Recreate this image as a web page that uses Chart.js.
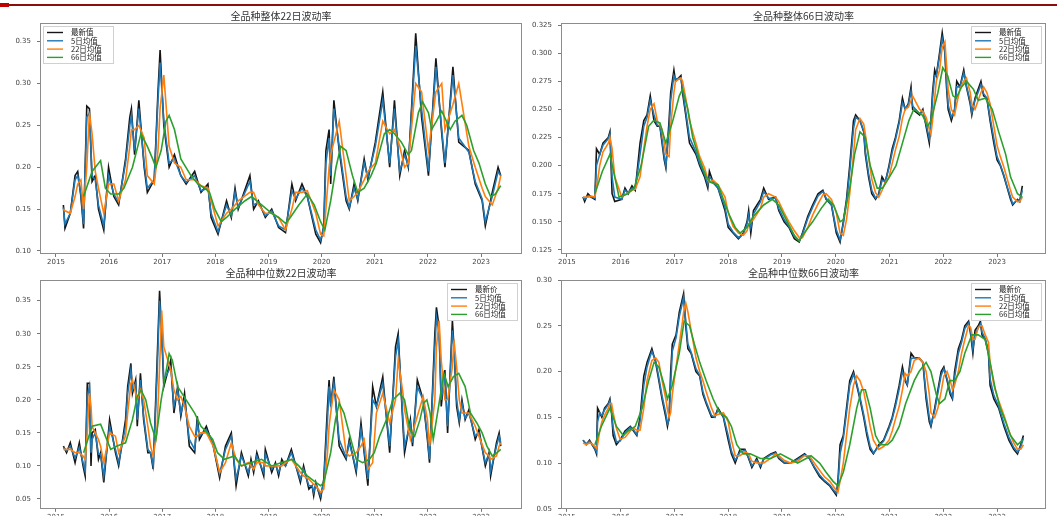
<!DOCTYPE html>
<html>
<head>
<meta charset="utf-8">
<script src="https://cdn.jsdelivr.net/npm/chart.js@4.4.1/dist/chart.umd.min.js"></script>
<style>
html, body { margin: 0; padding: 0; background: #fff; overflow: hidden; width: 1057px; height: 519px; }
canvas { position: absolute; left: 0; top: 0; }
#rule { position: absolute; left: 0; top: 4px; width: 1057px; height: 2px; background: #8b0d0d; }
#mark { position: absolute; left: 0; top: 3px; width: 9px; height: 4px; background: #c00000; }
</style>
</head>
<body>
<div id="rule"></div><div id="mark"></div>
<canvas id="c1" width="1057" height="519"></canvas>
<canvas id="c2" width="1057" height="519"></canvas>
<canvas id="c3" width="1057" height="519"></canvas>
<canvas id="c4" width="1057" height="519"></canvas>
<script>
// 横轴年份和各图纵轴刻度
const YEARS = [2015, 2016, 2017, 2018, 2019, 2020, 2021, 2022, 2023];
const TICKS_1 = [0.10, 0.15, 0.20, 0.25, 0.30, 0.35];
const TICKS_2 = [0.125, 0.150, 0.175, 0.200, 0.225, 0.250, 0.275, 0.300, 0.325];
const TICKS_3 = [0.05, 0.10, 0.15, 0.20, 0.25, 0.30, 0.35];
const TICKS_4 = [0.05, 0.10, 0.15, 0.20, 0.25, 0.30];
const NAMES_A = ['最新值', '5日均值', '22日均值', '66日均值'];
const NAMES_B = ['最新价', '5日均值', '22日均值', '66日均值'];

// 全品种整体22日波动率
const t1 = [2015.14,2015.17,2015.27,2015.36,2015.41,2015.47,2015.52,2015.58,2015.63,2015.68,
  2015.74,2015.80,2015.90,2015.99,2016.09,2016.18,2016.31,2016.39,2016.42,2016.48,
  2016.56,2016.66,2016.72,2016.85,2016.92,2016.96,2017.03,2017.13,2017.23,2017.35,
  2017.45,2017.61,2017.73,2017.86,2017.92,2018.05,2018.21,2018.30,2018.37,2018.43,
  2018.65,2018.72,2018.81,2018.94,2019.06,2019.19,2019.32,2019.44,2019.51,2019.63,
  2019.73,2019.89,2019.98,2020.04,2020.08,2020.14,2020.17,2020.23,2020.33,2020.46,
  2020.52,2020.61,2020.68,2020.80,2020.87,2021.01,2021.15,2021.28,2021.37,2021.47,
  2021.56,2021.63,2021.77,2021.88,2022.01,2022.15,2022.26,2022.32,2022.47,2022.58,
  2022.77,2022.89,2023.02,2023.08,2023.21,2023.32,2023.37];
const last1 = [.155,.127,.145,.19,.195,.165,.127,.273,.27,.183,
  .19,.15,.125,.20,.165,.155,.21,.26,.27,.215,
  .28,.20,.17,.185,.29,.34,.25,.20,.215,.19,
  .18,.195,.17,.18,.14,.12,.16,.14,.175,.15,
  .19,.15,.16,.14,.15,.128,.122,.18,.16,.18,
  .165,.12,.11,.13,.22,.245,.18,.28,.22,.16,
  .15,.18,.16,.21,.185,.23,.29,.20,.28,.19,
  .22,.20,.36,.26,.19,.33,.24,.20,.32,.23,
  .22,.18,.16,.13,.17,.20,.19];
const ma5_1 = [.152,.132,.145,.185,.19,.168,.132,.26,.265,.19,
  .185,.155,.13,.19,.168,.158,.205,.25,.262,.22,
  .27,.205,.175,.185,.28,.325,.255,.205,.21,.19,
  .182,.19,.172,.175,.145,.123,.155,.142,.17,.152,
  .183,.155,.158,.142,.148,.13,.125,.172,.162,.175,
  .165,.125,.113,.128,.205,.235,.19,.27,.225,.165,
  .152,.175,.162,.205,.188,.225,.28,.205,.27,.195,
  .215,.202,.345,.27,.195,.32,.245,.205,.31,.235,
  .218,.183,.162,.135,.165,.195,.19];
const ma22_1 = [.15,.148,.145,.165,.18,.185,.15,.2,.265,.24,
  .195,.175,.145,.18,.18,.16,.185,.225,.245,.245,
  .25,.235,.19,.18,.22,.27,.31,.225,.205,.2,
  .185,.185,.178,.175,.16,.13,.145,.15,.155,.16,
  .17,.17,.155,.145,.145,.14,.125,.15,.17,.17,
  .172,.145,.12,.118,.15,.2,.215,.23,.255,.19,
  .16,.165,.17,.185,.195,.205,.255,.24,.245,.225,
  .2,.205,.3,.29,.22,.29,.3,.245,.275,.3,
  .225,.2,.175,.165,.155,.175,.19];
const t66_1 = [2015.52,2015.68,2015.84,2015.93,2016.03,2016.18,2016.28,2016.44,2016.60,2016.72,
  2016.82,2016.88,2016.98,2017.07,2017.13,2017.23,2017.35,2017.54,2017.67,2017.80,
  2017.89,2017.99,2018.11,2018.21,2018.37,2018.56,2018.68,2018.87,2019.06,2019.19,
  2019.32,2019.41,2019.57,2019.73,2019.86,2019.98,2020.06,2020.17,2020.27,2020.36,
  2020.46,2020.58,2020.68,2020.80,2020.93,2021.03,2021.18,2021.28,2021.37,2021.50,
  2021.63,2021.69,2021.82,2021.90,2022.01,2022.07,2022.16,2022.26,2022.42,2022.51,
  2022.64,2022.73,2022.86,2022.96,2023.08,2023.18,2023.27,2023.37];
const ma66_1 = [.165,.195,.208,.175,.168,.168,.175,.20,.24,.225,
  .21,.20,.22,.255,.262,.245,.21,.19,.18,.175,
  .17,.15,.135,.14,.15,.16,.165,.155,.145,.14,
  .133,.14,.155,.168,.155,.135,.125,.16,.20,.225,
  .22,.19,.17,.175,.19,.205,.24,.245,.24,.23,
  .215,.22,.265,.278,.265,.245,.255,.267,.245,.255,
  .262,.25,.22,.205,.18,.165,.168,.178];

// 全品种整体66日波动率
const t2 = [2015.30,2015.33,2015.39,2015.45,2015.52,2015.55,2015.61,2015.67,2015.77,2015.80,
  2015.84,2015.89,2016.02,2016.08,2016.14,2016.21,2016.27,2016.36,2016.43,2016.49,
  2016.55,2016.62,2016.68,2016.73,2016.77,2016.81,2016.84,2016.90,2016.93,2016.99,
  2017.02,2017.12,2017.15,2017.21,2017.28,2017.40,2017.47,2017.56,2017.62,2017.65,
  2017.72,2017.81,2017.94,2018.00,2018.09,2018.19,2018.28,2018.35,2018.38,2018.42,
  2018.47,2018.60,2018.66,2018.75,2018.88,2018.94,2019.04,2019.13,2019.23,2019.32,
  2019.38,2019.48,2019.57,2019.67,2019.76,2019.82,2019.92,2020.01,2020.08,2020.14,
  2020.20,2020.26,2020.33,2020.37,2020.45,2020.52,2020.55,2020.61,2020.67,2020.74,
  2020.80,2020.86,2020.92,2020.99,2021.05,2021.11,2021.18,2021.24,2021.29,2021.35,
  2021.40,2021.43,2021.56,2021.62,2021.68,2021.74,2021.77,2021.80,2021.84,2021.87,
  2021.93,2021.98,2022.03,2022.06,2022.09,2022.15,2022.21,2022.25,2022.31,2022.38,
  2022.43,2022.50,2022.53,2022.59,2022.70,2022.75,2022.81,2022.87,2022.94,2023.00,
  2023.06,2023.13,2023.19,2023.25,2023.29,2023.38,2023.42,2023.47];
const last2 = [.172,.168,.175,.172,.17,.215,.21,.22,.225,.23,
  .175,.168,.17,.18,.175,.182,.178,.22,.24,.245,
  .262,.24,.235,.235,.22,.205,.198,.24,.265,.285,
  .275,.28,.265,.245,.22,.21,.20,.19,.18,.195,
  .185,.18,.16,.145,.14,.135,.14,.15,.16,.14,
  .16,.17,.18,.17,.172,.16,.15,.145,.135,.132,
  .14,.155,.165,.175,.178,.17,.165,.14,.132,.15,
  .17,.20,.24,.245,.24,.23,.21,.19,.175,.17,
  .175,.19,.185,.20,.215,.225,.24,.26,.25,.255,
  .27,.25,.245,.25,.235,.22,.24,.265,.285,.28,
  .30,.318,.30,.27,.25,.24,.25,.275,.27,.285,
  .27,.255,.245,.26,.275,.262,.26,.24,.22,.205,
  .20,.19,.18,.17,.165,.17,.168,.182];
const ma5_2 = [.172,.17,.173,.172,.171,.2,.21,.218,.224,.228,
  .19,.172,.17,.178,.176,.18,.179,.21,.235,.243,
  .258,.245,.236,.235,.223,.208,.2,.232,.258,.28,
  .277,.278,.268,.248,.225,.212,.202,.192,.183,.19,
  .186,.18,.163,.148,.141,.136,.139,.148,.156,.145,
  .157,.168,.177,.171,.171,.162,.152,.146,.137,.133,
  .139,.153,.163,.173,.177,.171,.165,.143,.134,.148,
  .167,.195,.233,.243,.24,.231,.213,.193,.178,.171,
  .174,.187,.186,.198,.212,.223,.238,.256,.251,.254,
  .266,.253,.246,.249,.237,.224,.237,.26,.28,.28,
  .297,.313,.302,.275,.254,.243,.249,.27,.27,.282,
  .271,.257,.247,.258,.272,.264,.26,.243,.224,.208,
  .201,.191,.181,.172,.166,.169,.168,.178];
const ma22_2 = [.172,.172,.172,.173,.172,.18,.2,.212,.22,.225,
  .215,.19,.172,.174,.176,.178,.179,.19,.215,.235,
  .25,.255,.24,.236,.232,.22,.21,.208,.235,.265,
  .275,.278,.275,.26,.24,.22,.208,.198,.188,.185,
  .187,.183,.172,.158,.146,.14,.138,.142,.148,.15,
  .152,.162,.172,.175,.172,.168,.158,.15,.142,.136,
  .136,.145,.156,.166,.174,.175,.17,.158,.14,.138,
  .152,.175,.21,.232,.242,.237,.228,.208,.188,.176,
  .172,.178,.185,.19,.202,.214,.226,.242,.25,.252,
  .258,.262,.25,.248,.243,.232,.228,.24,.26,.275,
  .285,.305,.31,.29,.268,.25,.245,.255,.268,.275,
  .278,.265,.255,.25,.265,.27,.265,.255,.235,.218,
  .208,.198,.188,.178,.172,.168,.168,.172];
const t66_2 = [2015.52,2015.66,2015.80,2015.97,2016.13,2016.25,2016.38,2016.52,2016.61,2016.73,
  2016.84,2016.97,2017.09,2017.15,2017.25,2017.34,2017.47,2017.59,2017.68,2017.81,
  2017.91,2018.03,2018.13,2018.22,2018.35,2018.47,2018.66,2018.82,2018.94,2019.10,
  2019.23,2019.32,2019.41,2019.57,2019.73,2019.86,2019.96,2020.08,2020.14,2020.26,
  2020.35,2020.45,2020.55,2020.64,2020.77,2020.87,2021.00,2021.12,2021.24,2021.36,
  2021.45,2021.61,2021.71,2021.77,2021.90,2021.99,2022.08,2022.18,2022.24,2022.34,
  2022.43,2022.56,2022.65,2022.78,2022.91,2023.03,2023.16,2023.25,2023.38,2023.47];
const ma66_2 = [.175,.195,.21,.172,.175,.18,.20,.235,.24,.238,
  .22,.24,.262,.268,.25,.225,.205,.19,.185,.183,
  .17,.155,.145,.14,.145,.155,.165,.17,.165,.15,
  .138,.133,.14,.15,.162,.17,.165,.15,.152,.18,
  .21,.23,.225,.2,.18,.18,.19,.2,.22,.24,
  .25,.245,.235,.24,.265,.287,.28,.262,.26,.27,
  .275,.268,.258,.26,.25,.23,.21,.19,.175,.172];

// 全品种中位数22日波动率
const t3 = [2015.14,2015.20,2015.27,2015.36,2015.44,2015.51,2015.55,2015.59,2015.63,2015.66,
  2015.68,2015.74,2015.80,2015.84,2015.90,2016.01,2016.12,2016.18,2016.31,2016.35,
  2016.41,2016.44,2016.50,2016.53,2016.59,2016.65,2016.73,2016.78,2016.83,2016.90,
  2016.95,2016.99,2017.03,2017.16,2017.22,2017.29,2017.35,2017.42,2017.51,2017.61,
  2017.66,2017.70,2017.83,2017.96,2018.08,2018.19,2018.30,2018.39,2018.49,2018.62,
  2018.67,2018.72,2018.78,2018.91,2018.94,2019.06,2019.13,2019.19,2019.25,2019.32,
  2019.43,2019.60,2019.66,2019.76,2019.82,2019.85,2019.89,2019.98,2020.04,2020.11,
  2020.14,2020.17,2020.23,2020.33,2020.46,2020.52,2020.65,2020.74,2020.80,2020.87,
  2020.96,2021.03,2021.15,2021.28,2021.39,2021.44,2021.53,2021.56,2021.67,2021.71,
  2021.80,2021.91,2021.99,2022.03,2022.13,2022.16,2022.21,2022.25,2022.32,2022.37,
  2022.46,2022.49,2022.54,2022.59,2022.64,2022.70,2022.77,2022.89,2022.96,2023.08,
  2023.15,2023.18,2023.29,2023.34,2023.37];
const last3 = [.13,.12,.135,.105,.135,.10,.085,.225,.225,.10,
  .15,.155,.11,.12,.075,.17,.12,.10,.17,.22,
  .255,.21,.23,.16,.24,.17,.12,.12,.095,.25,
  .365,.30,.22,.26,.18,.22,.175,.21,.13,.12,
  .175,.14,.16,.13,.082,.13,.15,.07,.12,.085,
  .11,.09,.12,.085,.125,.09,.105,.085,.11,.10,
  .125,.075,.10,.065,.07,.055,.075,.05,.08,.19,
  .23,.19,.235,.13,.11,.14,.09,.165,.12,.07,
  .22,.19,.235,.12,.28,.30,.16,.12,.17,.13,
  .23,.20,.14,.105,.30,.34,.31,.19,.245,.15,
  .32,.28,.19,.165,.20,.17,.185,.14,.155,.10,
  .12,.085,.135,.15,.13];
const ma5_3 = [.128,.123,.13,.112,.128,.105,.092,.205,.22,.12,
  .14,.15,.118,.118,.085,.16,.125,.105,.16,.21,
  .245,.215,.225,.17,.23,.175,.125,.12,.10,.23,
  .35,.305,.23,.25,.19,.215,.18,.2,.14,.125,
  .165,.145,.155,.132,.088,.125,.145,.08,.115,.09,
  .105,.095,.115,.09,.118,.095,.102,.09,.105,.1,
  .12,.08,.095,.07,.07,.06,.072,.055,.075,.17,
  .22,.195,.225,.14,.113,.135,.095,.155,.125,.08,
  .2,.19,.225,.13,.265,.29,.17,.13,.165,.135,
  .22,.2,.145,.11,.28,.325,.3,.2,.235,.16,
  .305,.28,.2,.17,.195,.172,.18,.145,.15,.105,
  .118,.092,.13,.145,.135];
const ma22_3 = [.125,.125,.125,.12,.12,.115,.11,.15,.21,.19,
  .16,.15,.14,.13,.105,.15,.145,.12,.145,.18,
  .225,.23,.21,.2,.215,.2,.16,.13,.115,.15,
  .25,.335,.28,.245,.215,.2,.205,.19,.16,.145,
  .145,.15,.15,.13,.09,.105,.135,.11,.1,.105,
  .1,.095,.105,.105,.1,.1,.1,.1,.1,.105,
  .11,.09,.085,.08,.075,.072,.07,.06,.065,.12,
  .16,.18,.215,.2,.12,.115,.12,.13,.14,.095,
  .105,.18,.21,.165,.2,.26,.21,.185,.14,.15,
  .175,.205,.17,.13,.2,.28,.32,.26,.2,.2,
  .25,.29,.25,.2,.18,.18,.18,.16,.145,.12,
  .115,.11,.115,.13,.135];
const t66_3 = [2015.52,2015.68,2015.84,2015.93,2016.03,2016.15,2016.31,2016.44,2016.53,2016.60,
  2016.69,2016.78,2016.88,2016.98,2017.13,2017.19,2017.29,2017.45,2017.61,2017.73,
  2017.85,2017.95,2018.04,2018.17,2018.36,2018.49,2018.68,2018.87,2019.06,2019.25,
  2019.44,2019.57,2019.73,2019.89,2019.98,2020.04,2020.17,2020.26,2020.33,2020.42,
  2020.55,2020.65,2020.77,2020.90,2020.99,2021.09,2021.22,2021.34,2021.47,2021.56,
  2021.66,2021.75,2021.85,2021.92,2021.98,2022.04,2022.10,2022.18,2022.30,2022.38,
  2022.48,2022.58,2022.70,2022.80,2022.92,2023.02,2023.11,2023.21,2023.30,2023.37];
const ma66_3 = [.12,.16,.163,.145,.125,.13,.135,.17,.205,.215,
  .2,.165,.14,.2,.27,.26,.22,.2,.18,.16,
  .15,.14,.12,.11,.115,.1,.105,.11,.1,.105,
  .11,.1,.085,.075,.07,.075,.12,.17,.195,.18,
  .14,.11,.105,.11,.12,.145,.17,.2,.21,.2,
  .155,.145,.17,.195,.2,.18,.14,.18,.24,.22,
  .235,.24,.22,.18,.165,.15,.13,.115,.12,.125];

// 全品种中位数66日波动率
const t4 = [2015.30,2015.36,2015.42,2015.47,2015.52,2015.55,2015.57,2015.61,2015.65,2015.70,
  2015.77,2015.80,2015.83,2015.86,2015.92,2015.99,2016.08,2016.18,2016.24,2016.30,
  2016.36,2016.43,2016.49,2016.55,2016.58,2016.65,2016.71,2016.77,2016.84,2016.87,
  2016.90,2016.93,2016.96,2017.03,2017.09,2017.15,2017.17,2017.21,2017.25,2017.31,
  2017.40,2017.47,2017.53,2017.59,2017.69,2017.75,2017.81,2017.91,2018.00,2018.06,
  2018.13,2018.22,2018.31,2018.38,2018.44,2018.53,2018.60,2018.66,2018.79,2018.88,
  2018.94,2019.04,2019.16,2019.29,2019.42,2019.51,2019.60,2019.70,2019.79,2019.89,
  2019.95,2020.01,2020.04,2020.08,2020.14,2020.20,2020.26,2020.33,2020.39,2020.45,
  2020.52,2020.58,2020.64,2020.70,2020.80,2020.89,2020.99,2021.05,2021.11,2021.18,
  2021.24,2021.29,2021.33,2021.40,2021.46,2021.55,2021.62,2021.68,2021.74,2021.77,
  2021.84,2021.90,2021.96,2022.01,2022.07,2022.13,2022.17,2022.21,2022.28,2022.34,
  2022.40,2022.47,2022.51,2022.55,2022.59,2022.65,2022.69,2022.72,2022.78,2022.84,
  2022.87,2022.94,2023.03,2023.13,2023.22,2023.31,2023.38,2023.44,2023.49];
const last4 = [.125,.12,.125,.12,.115,.11,.16,.155,.15,.16,
  .165,.17,.155,.13,.12,.125,.135,.14,.135,.13,
  .15,.195,.21,.22,.225,.21,.19,.17,.15,.14,
  .15,.2,.23,.24,.265,.28,.285,.25,.225,.22,
  .20,.195,.175,.165,.15,.15,.16,.15,.125,.11,
  .10,.115,.115,.105,.095,.105,.095,.105,.11,.112,
  .105,.10,.10,.105,.11,.105,.095,.085,.08,.075,
  .07,.065,.08,.12,.13,.16,.19,.20,.185,.17,
  .15,.13,.115,.11,.12,.125,.14,.15,.165,.185,
  .205,.19,.185,.22,.215,.215,.21,.17,.145,.14,
  .16,.18,.2,.205,.19,.175,.17,.2,.225,.235,
  .25,.255,.24,.22,.245,.25,.255,.24,.235,.22,
  .185,.17,.16,.14,.125,.115,.11,.12,.13];
const ma5_4 = [.125,.121,.124,.12,.116,.112,.145,.155,.152,.158,
  .164,.168,.158,.138,.123,.124,.133,.139,.136,.131,
  .145,.185,.205,.217,.222,.212,.193,.173,.154,.143,
  .147,.185,.222,.237,.26,.276,.281,.255,.23,.221,
  .203,.196,.178,.167,.152,.15,.158,.151,.13,.113,
  .103,.112,.114,.106,.097,.103,.097,.104,.109,.111,
  .106,.101,.1,.104,.109,.105,.096,.087,.081,.076,
  .071,.067,.076,.11,.127,.155,.185,.197,.187,.172,
  .153,.134,.118,.111,.118,.124,.138,.148,.162,.181,
  .2,.192,.186,.214,.215,.214,.21,.176,.15,.142,
  .157,.177,.196,.203,.192,.178,.172,.194,.22,.232,
  .247,.253,.243,.225,.24,.248,.252,.243,.236,.223,
  .192,.174,.162,.143,.128,.117,.112,.118,.127];
const ma22_4 = [.122,.12,.122,.121,.118,.116,.12,.135,.145,.152,
  .16,.165,.165,.155,.138,.126,.128,.135,.138,.136,
  .136,.16,.19,.205,.212,.215,.21,.19,.17,.158,
  .15,.155,.175,.205,.23,.255,.265,.275,.265,.245,
  .215,.2,.19,.178,.16,.152,.153,.155,.145,.125,
  .108,.108,.112,.11,.102,.1,.1,.1,.105,.11,
  .108,.103,.1,.102,.108,.108,.1,.092,.085,.08,
  .075,.07,.068,.08,.1,.13,.16,.185,.195,.19,
  .178,.16,.14,.125,.115,.118,.125,.135,.148,.162,
  .18,.198,.195,.2,.212,.215,.21,.2,.175,.155,
  .15,.16,.178,.195,.2,.19,.18,.185,.2,.22,
  .235,.25,.248,.235,.235,.248,.25,.25,.24,.232,
  .21,.185,.168,.152,.135,.122,.115,.115,.12];
const t66_4 = [2015.52,2015.64,2015.80,2015.92,2016.05,2016.14,2016.27,2016.40,2016.52,2016.62,
  2016.71,2016.81,2016.87,2016.96,2017.09,2017.18,2017.28,2017.37,2017.47,2017.59,
  2017.72,2017.84,2017.97,2018.06,2018.16,2018.28,2018.41,2018.60,2018.79,2018.97,
  2019.13,2019.29,2019.45,2019.54,2019.70,2019.82,2019.95,2020.04,2020.14,2020.26,
  2020.39,2020.48,2020.55,2020.64,2020.74,2020.83,2020.96,2021.05,2021.18,2021.30,
  2021.46,2021.55,2021.68,2021.77,2021.87,2021.93,2022.03,2022.12,2022.21,2022.31,
  2022.40,2022.53,2022.65,2022.78,2022.87,2022.97,2023.06,2023.16,2023.25,2023.38,
  2023.47];
const ma66_4 = [.12,.14,.16,.14,.13,.135,.14,.16,.19,.21,
  .205,.185,.17,.185,.22,.255,.25,.23,.21,.19,
  .17,.155,.15,.14,.12,.11,.11,.105,.105,.11,
  .105,.10,.105,.108,.1,.09,.08,.075,.09,.12,
  .16,.18,.18,.16,.13,.12,.12,.125,.14,.165,
  .19,.20,.21,.2,.175,.165,.17,.19,.19,.2,
  .22,.24,.24,.235,.21,.18,.16,.145,.13,.12,
  .125];

const COLORS = ['#151515', '#1f77b4', '#ff7f0e', '#2ca02c'];
const TICK_FONT = { family: 'DejaVu Sans', size: 7 };

function panel(id, o) {
  const pts = (xs, ys) => xs.map((x, i) => ({ x: x, y: ys[i] }));
  const series = [pts(o.t, o.last), pts(o.t, o.ma5), pts(o.t, o.ma22), pts(o.gt, o.ma66)];
  const [L, T, R, B] = o.box;
  new Chart(document.getElementById(id), {
    type: 'line',
    data: {
      datasets: series.map((d, i) => ({
        label: o.names[i],
        data: d,
        borderColor: COLORS[i],
        order: 4 - i
      }))
    },
    options: {
      responsive: false,
      animation: false,
      events: [],
      layout: { padding: { left: L - 40, top: T, right: 1057 - R, bottom: 0 } },
      elements: {
        point: { radius: 0 },
        line: { borderWidth: 1.6, tension: 0, fill: false }
      },
      plugins: { legend: { display: false }, tooltip: { enabled: false } },
      scales: {
        x: {
          type: 'linear',
          min: o.xr[0],
          max: o.xr[1],
          afterFit: s => { s.height = 519 - B; },
          afterBuildTicks: s => { s.ticks = YEARS.map(v => ({ value: v })); },
          ticks: {
            autoSkip: false, maxRotation: 0, padding: 1,
            color: '#444', font: TICK_FONT,
            callback: v => String(v)
          },
          grid: { drawOnChartArea: false, tickLength: 3, color: '#777' },
          border: { display: false }
        },
        y: {
          min: o.yr[0],
          max: o.yr[1],
          afterFit: s => { s.width = 40; },
          afterBuildTicks: s => { s.ticks = o.yt.map(v => ({ value: v })); },
          ticks: {
            padding: 6, color: '#444', font: TICK_FONT,
            callback: v => v.toFixed(o.dec)
          },
          grid: { drawOnChartArea: false, tickLength: 3, color: '#777' },
          border: { display: false }
        }
      }
    },
    plugins: [{
      id: 'frame',
      afterDraw(chart) {
        const ctx = chart.ctx, a = chart.chartArea;
        ctx.save();
        // 坐标框
        ctx.strokeStyle = '#8c8c8c';
        ctx.lineWidth = 1;
        ctx.strokeRect(Math.round(a.left) + 0.5, Math.round(a.top) + 0.5,
          Math.round(a.right - a.left) - 1, Math.round(a.bottom - a.top) - 1);
        // 标题
        ctx.fillStyle = '#333';
        ctx.font = '10px "Noto Sans CJK SC"';
        ctx.textAlign = 'center';
        ctx.textBaseline = 'middle';
        ctx.fillText(o.title, (a.left + a.right) / 2, a.top - 7);
        // 图例
        const w = 70, h = 37;
        const lx = o.legendLeft ? a.left + 3 : a.right - 5 - w;
        const ly = a.top + 3;
        ctx.fillStyle = 'rgba(255,255,255,0.85)';
        ctx.fillRect(lx, ly, w, h);
        ctx.strokeStyle = '#d0d0d0';
        ctx.strokeRect(lx + 0.5, ly + 0.5, w, h);
        ctx.font = '7.5px "Noto Sans CJK SC"';
        ctx.textAlign = 'left';
        o.names.forEach((n, i) => {
          const y = ly + 6.5 + i * 8.3;
          ctx.strokeStyle = COLORS[i];
          ctx.lineWidth = 1.4;
          ctx.beginPath();
          ctx.moveTo(lx + 4, y);
          ctx.lineTo(lx + 20, y);
          ctx.stroke();
          ctx.fillStyle = '#222';
          ctx.fillText(n, lx + 28, y);
        });
        ctx.restore();
      }
    }]
  });
}

panel('c1', {
  title: '全品种整体22日波动率', names: NAMES_A, legendLeft: true,
  box: [40, 23, 522, 254], xr: [2014.70, 2023.77], yr: [0.0964, 0.3723], yt: TICKS_1, dec: 2,
  t: t1, last: last1, ma5: ma5_1, ma22: ma22_1, gt: t66_1, ma66: ma66_1
});
panel('c2', {
  title: '全品种整体66日波动率', names: NAMES_A, legendLeft: false,
  box: [561, 23, 1046, 254], xr: [2014.89, 2023.91], yr: [0.1214, 0.3268], yt: TICKS_2, dec: 3,
  t: t2, last: last2, ma5: ma5_2, ma22: ma22_2, gt: t66_2, ma66: ma66_2
});
panel('c3', {
  title: '全品种中位数22日波动率', names: NAMES_B, legendLeft: false,
  box: [40, 280, 522, 512], xr: [2014.70, 2023.77], yr: [0.0351, 0.3813], yt: TICKS_3, dec: 2,
  t: t3, last: last3, ma5: ma5_3, ma22: ma22_3, gt: t66_3, ma66: ma66_3
});
panel('c4', {
  title: '全品种中位数66日波动率', names: NAMES_B, legendLeft: false,
  box: [561, 280, 1046, 512], xr: [2014.89, 2023.91], yr: [0.05, 0.30], yt: TICKS_4, dec: 2,
  t: t4, last: last4, ma5: ma5_4, ma22: ma22_4, gt: t66_4, ma66: ma66_4
});
</script>
</body>
</html>
